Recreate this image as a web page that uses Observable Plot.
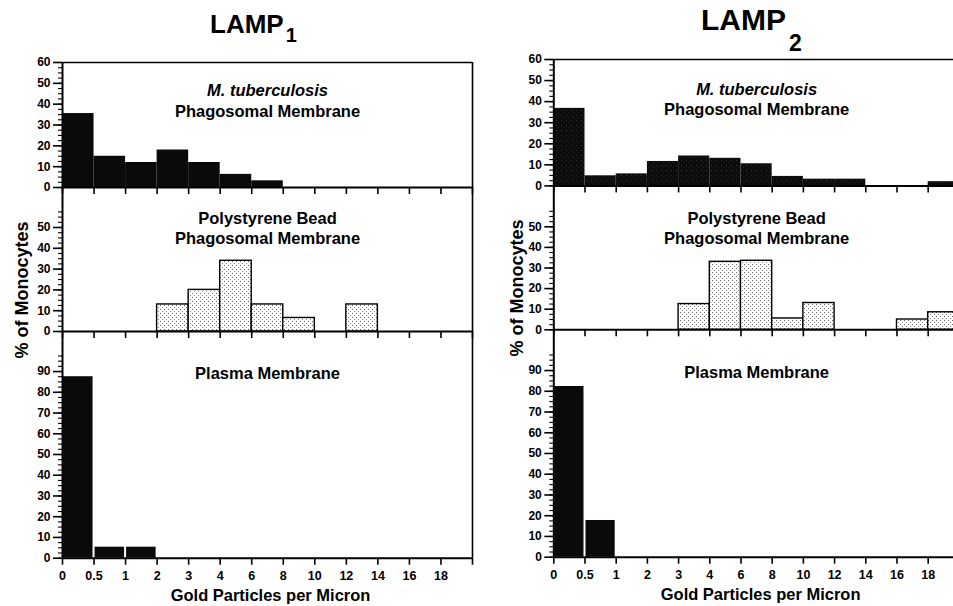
<!DOCTYPE html>
<html>
<head>
<meta charset="utf-8">
<script src="https://cdn.jsdelivr.net/npm/d3@7"></script>
<script src="https://cdn.jsdelivr.net/npm/@observablehq/plot@0.6"></script>
<style>
  html, body { margin: 0; padding: 0; background: #fff; overflow: hidden; width: 953px; height: 606px; }
  #root { position: relative; width: 953px; height: 606px; overflow: hidden; color: #000;
          font-family: "Liberation Sans", Arial, Helvetica, sans-serif; }
  .panel { position: absolute; }
  .title { position: absolute; font-weight: bold; line-height: 1; white-space: nowrap; }
  .title span { position: relative; }
  .ylab { position: absolute; font-weight: bold; font-size: 18px; white-space: nowrap;
          transform: translate(-50%, -50%) rotate(-90deg); }
</style>
</head>
<body>
<div id="root">
  <svg width="0" height="0" style="position:absolute">
    <defs>
      <pattern id="lightDots" width="4" height="4" patternUnits="userSpaceOnUse">
        <rect width="4" height="4" fill="#ffffff"/>
        <rect x="0" y="0" width="1" height="1" fill="#666"/>
        <rect x="2" y="2" width="1" height="1" fill="#888"/>
      </pattern>
      <pattern id="darkDots" width="5" height="5" patternUnits="userSpaceOnUse">
        <rect width="5" height="5" fill="#0c0c0c"/>
        <rect x="1" y="1" width="1" height="1" fill="#333"/>
        <rect x="3" y="3" width="1" height="1" fill="#222"/>
      </pattern>
    </defs>
  </svg>
  <div class="title" style="left:210px; top:11px; font-size:26px;">LAMP<span style="font-size:20px; top:9px; margin-left:2px;">1</span></div>
  <div class="title" style="left:701px; top:5px; font-size:30px;">LAMP<span style="font-size:23px; top:21px; margin-left:3px;">2</span></div>
  <div class="ylab" style="left:22px; top:290px;">% of Monocytes</div>
  <div class="ylab" style="left:517px; top:288px;">% of Monocytes</div>
</div>
<script>
// ---- data ----
const edgeLabels = ["0", "0.5", "1", "2", "3", "4", "6", "8", "10", "12", "14", "16", "18"];
const binNames = ["0–0.5", "0.5–1", "1–2", "2–3", "3–4", "4–6", "6–8", "8–10", "10–12", "12–14", "14–16", "16–18", "18–20"];

const lamp1Mtb    = [35.5, 15, 12, 18, 12, 6.3, 3.2, 0, 0, 0, 0, 0, 0];
const lamp1Bead   = [0, 0, 0, 13, 20, 34, 13, 6.5, 0, 13, 0, 0, 0];
const lamp1Plasma = [87.5, 5.3, 5.3, 0, 0, 0, 0, 0, 0, 0, 0, 0, 0];

const lamp2Mtb    = [36.8, 4.8, 5.7, 11.6, 14.2, 13.1, 10.5, 4.5, 3.2, 3.2, 0, 0, 2];
const lamp2Bead   = [0, 0, 0, 0, 12.5, 33, 33.5, 5.5, 13, 0, 0, 5, 8.5];
const lamp2Plasma = [82.3, 17.7, 0, 0, 0, 0, 0, 0, 0, 0, 0, 0, 0];

const yMajorTop = [0, 10, 20, 30, 40, 50, 60];
const yMajorMid = [0, 10, 20, 30, 40, 50];
const yMajorBot = [0, 10, 20, 30, 40, 50, 60, 70, 80, 90];
const yMinorTop = d3.range(0, 60.1, 2.5);
const yMinorMid = d3.range(0, 57.6, 2.5);
const yMinorBot = d3.range(0, 97.6, 2.5);

const panelText = {
  mtb: ["M. tuberculosis", "Phagosomal Membrane"],
  bead: ["Polystyrene Bead", "Phagosomal Membrane"],
  plasma: ["Plasma Membrane"]
};
const xTitle = "Gold Particles per Micron";

// ---- drawing ----
const root = document.getElementById("root");

function rows(values) {
  return values.map((v, i) => ({bin: binNames[i], i, v})).filter(d => d.v > 0);
}

function panel(c) {
  const mt = 10, mr = 12;
  const mb = c.xLabels ? 48 : 12;
  const ml = c.frameLeft - c.left;
  const marks = [
    Plot.rect(rows(c.values), {
      x1: "i", x2: d => d.i + 1, y1: 0, y2: "v",
      fill: c.fill, stroke: c.stroke ?? "none", strokeWidth: c.stroke ? 1.4 : 0,
      insetLeft: c.inset ?? 0, insetRight: c.inset ?? 0
    }),
    Plot.ruleY([0], {strokeWidth: 2}),
    Plot.ruleX([0], {strokeWidth: 2}),
    c.rightBorder ? Plot.ruleX([13], {strokeWidth: 1.6}) : null,
    c.topBorder ? Plot.ruleY([c.ymax], {strokeWidth: 1.6}) : null,
    Plot.axisY(c.majors, {anchor: "left", tickSize: 9, tickPadding: 3, fontSize: 12, fontWeight: "bold", label: null, strokeWidth: 1.6}),
    Plot.axisY(c.minors, {anchor: "left", tickSize: 4, tickFormat: () => "", label: null, strokeWidth: 1.1}),
    Plot.axisX(d3.range(14), {
      anchor: "bottom", tickSize: 7, tickPadding: 6, label: null, strokeWidth: 1.6,
      tickFormat: i => c.xLabels ? (edgeLabels[i] ?? "") : "", fontSize: 12.5, fontWeight: "bold"
    })
  ];
  c.labels.forEach((t, k) => {
    marks.push(Plot.text([t], {
      text: d => d, frameAnchor: "top", lineAnchor: "middle", dy: c.labelDy[k],
      fontSize: 16.5, fontWeight: "bold", fontStyle: (t.startsWith("M. ") ? "italic" : "normal")
    }));
  });
  if (c.xLabels) {
    marks.push(Plot.text([xTitle], {
      text: d => d, frameAnchor: "bottom", lineAnchor: "middle", dy: c.titleDy, dx: c.titleDx ?? 0,
      fontSize: 16.5, fontWeight: "bold"
    }));
  }
  const svg = Plot.plot({
    width: ml + c.frameWidth + mr,
    height: mt + c.frameHeight + mb,
    marginLeft: ml, marginRight: mr, marginTop: mt, marginBottom: mb,
    x: {domain: [0, 13], axis: null},
    y: {domain: [0, c.ymax], axis: null},
    style: {background: "transparent", overflow: "visible", color: "#000",
            fontFamily: "'Liberation Sans', Arial, Helvetica, sans-serif"},
    marks
  });
  svg.classList.add("panel");
  svg.style.left = c.left + "px";
  svg.style.top = (c.frameTop - mt) + "px";
  root.appendChild(svg);
}

// Left column (LAMP1)
const L = {left: 0, frameLeft: 62, frameWidth: 410, rightBorder: true};
panel({...L, frameTop: 62, frameHeight: 125, ymax: 60, majors: yMajorTop, minors: yMinorTop,
  values: lamp1Mtb, fill: "#0a0a0a", labels: panelText.mtb, labelDy: [28, 49], topBorder: true});
panel({...L, frameTop: 187, frameHeight: 144, ymax: 144 / 2.08, majors: yMajorMid, minors: yMinorMid,
  values: lamp1Bead, fill: "url(#lightDots)", stroke: "#000", labels: panelText.bead, labelDy: [31, 51.5]});
panel({...L, frameTop: 331, frameHeight: 226.7, ymax: 226.7 / 2.074, majors: yMajorBot, minors: yMinorBot,
  values: lamp1Plasma, fill: "#0a0a0a", inset: 1, labels: panelText.plasma, labelDy: [42.5],
  xLabels: true, titleDy: 38, titleDx: 3});

// Right column (LAMP2)
const R = {left: 480, frameLeft: 553.3, frameWidth: 405.6, rightBorder: true};
panel({...R, frameTop: 59.3, frameHeight: 126.4, ymax: 60, majors: yMajorTop, minors: yMinorTop,
  values: lamp2Mtb, fill: "url(#darkDots)", labels: panelText.mtb, labelDy: [30, 50], topBorder: true});
panel({...R, frameTop: 185.7, frameHeight: 143.3, ymax: 143.3 / 2.06, majors: yMajorMid, minors: yMinorMid,
  values: lamp2Bead, fill: "url(#lightDots)", stroke: "#000", labels: panelText.bead, labelDy: [32, 52]});
panel({...R, frameTop: 329, frameHeight: 227.7, ymax: 227.7 / 2.074, majors: yMajorBot, minors: yMinorBot,
  values: lamp2Plasma, fill: "#0a0a0a", inset: 1, labels: panelText.plasma, labelDy: [43],
  xLabels: true, titleDy: 38, titleDx: 4});
</script>
</body>
</html>
